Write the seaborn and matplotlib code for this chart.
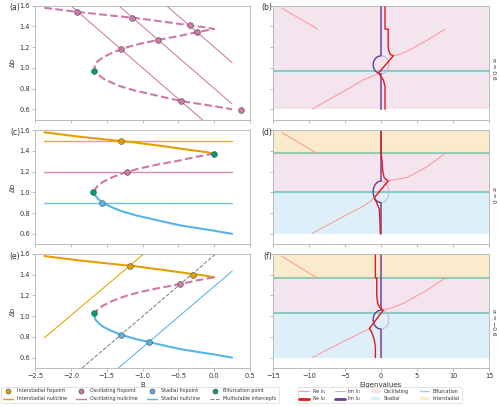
import numpy as np
import matplotlib.pyplot as plt
import seaborn as sns
from matplotlib.lines import Line2D
from matplotlib.patches import Patch

nan = np.nan

# fold curve of fixpoints (B against Δb), same for the three left panels
upper_b = [-2.37, -1.91, -1.30, -1.14, -0.70, -0.34, -0.12, 0.0]
upper_db = [1.58, 1.54, 1.495, 1.485, 1.445, 1.41, 1.39, 1.375]
middle_b = [0.0, -0.12, -0.24, -0.47, -0.78, -1.05, -1.21, -1.41, -1.555, -1.63, -1.66, -1.67]
middle_db = [1.375, 1.36, 1.345, 1.31, 1.27, 1.23, 1.20, 1.15, 1.10, 1.06, 1.03, 1.00]
lower_b = [-1.67, -1.66, -1.61, -1.555, -1.44, -1.30, -1.10, -0.91, -0.66, -0.46, -0.23, 0.0, 0.25]
lower_db = [1.00, 0.97, 0.93, 0.90, 0.86, 0.82, 0.78, 0.75, 0.71, 0.68, 0.655, 0.63, 0.60]

# nullclines
a_null_b = [-2.5, 0.25]
a_null_db = [[1.90, 0.25], [2.30, 0.652], [2.70, 1.051]]
c_null_b = [-2.37, 0.25]
c_null_db = {"Interstadial": 1.5, "Oscillating": 1.2, "Stadial": 0.9}
e_null_b = [-2.37, 0.25]
e_inter_db = [0.79, 2.32]
e_stad_db = [-0.11, 1.434]
e_multi_db = [0.189, 1.735]

# fixpoints (B, Δb)
a_osc = ([-1.91, -1.30, -0.46, -1.14, -0.78, -0.34, -0.24, 0.37],
         [1.54, 1.18, 0.68, 1.485, 1.27, 1.41, 1.345, 0.59])
a_bif = ([-1.68], [0.97])
c_int = ([-1.30], [1.50])
c_osc = ([-1.21], [1.20])
c_sta = ([-1.56], [0.90])
c_bif = ([-1.69, 0.0], [1.00, 1.375])
e_int = ([-1.18, -0.30], [1.48, 1.40])
e_osc = ([-0.47], [1.31])
e_sta = ([-1.30, -0.91], [0.82, 0.75])
e_bif = ([-1.68], [1.03])

# eigenvalues (right panels)
im1_x = [0, 0, 0.42, 0.78, 1.02, 1.1, 1.02, 0.78, 0.42, 0, 0]
im2_x = [0, 0, -0.42, -0.78, -1.02, -1.1, -1.02, -0.78, -0.42, 0, 0]

b_re1_x = [-13.8, -8.8, nan, -9.5, -7.08, -4.5, -2.45, -1.07, -0.37, 1.71, 2.5, 3.57, 6.35, 8.89]
b_re1_y = [1.578, 1.374, nan, 0.603, 0.70, 0.80, 0.884, 0.922, 0.948, 1.116, 1.13, 1.158, 1.264, 1.374]
b_re2_x = [0.56, 0.56, 1.0, 1.0, 1.1, 1.3, 1.71, -0.37, -0.14, 0.32, 0.56, 0.56]
b_re2_y = [1.59, 1.374, 1.374, 1.20, 1.16, 1.13, 1.116, 0.948, 0.932, 0.884, 0.82, 0.60]
b_im_y = [1.59, 1.117, 1.110, 1.092, 1.063, 1.03, 0.997, 0.969, 0.950, 0.943, 0.6]

d_re1_x = [-13.8, -8.8, nan, -9.5, -7.08, -4.5, -2.45, -1.3, -0.93, 1.0, 2.0, 3.57, 6.35, 8.89]
d_re1_y = [1.578, 1.374, nan, 0.607, 0.697, 0.794, 0.868, 0.922, 0.949, 1.11, 1.125, 1.142, 1.246, 1.374]
d_re2_x = [0.0, 0.0, 0.15, 0.25, 0.45, 1.0, -0.93, -0.6, -0.23, -0.14, -0.1]
d_re2_y = [1.59, 1.38, 1.30, 1.20, 1.14, 1.11, 0.949, 0.90, 0.835, 0.70, 0.60]
d_im_y = [1.59, 1.110, 1.102, 1.079, 1.045, 1.005, 0.965, 0.931, 0.908, 0.900, 0.6]

f_re1_x = [-13.8, -8.8, nan, -9.5, -7.08, -4.5, -2.45, -1.62, 0.32, 1.5, 3.1, 6.35, 8.89]
f_re1_y = [1.578, 1.365, nan, 0.60, 0.69, 0.78, 0.85, 0.88, 1.058, 1.08, 1.123, 1.25, 1.365]
f_re2_x = [-0.78, -0.78, -0.6, -0.6, -0.45, -0.14, 0.32, -1.62, -1.3, -0.93, -0.78, -0.78]
f_re2_y = [1.59, 1.37, 1.37, 1.2, 1.12, 1.08, 1.058, 0.88, 0.848, 0.77, 0.70, 0.60]
f_im_y = [1.59, 1.058, 1.051, 1.031, 1.001, 0.966, 0.931, 0.901, 0.881, 0.874, 0.6]

# regime bands (low, high, regime) and bifurcation levels
b_bands = [(0.97, 1.59, "Oscillating"), (0.945, 0.97, "Stadial"), (0.6, 0.945, "Oscillating")]
b_bif = [0.97]
d_bands = [(1.38, 1.59, "Interstadial"), (1.0, 1.38, "Oscillating"), (0.6, 1.0, "Stadial")]
d_bif = [1.38, 1.0]
f_bands = [(1.365, 1.59, "Interstadial"), (1.026, 1.365, "Oscillating"), (0.6, 1.026, "Stadial")]
f_bif = [1.365, 1.026]

sigma_labels = ["σ = 0.6", "σ = 0", "σ = −0.6"]

sns.set_theme(style="ticks", rc={
    "axes.edgecolor": "0.7", "xtick.color": "0.7", "ytick.color": "0.7",
    "xtick.labelcolor": "0.2", "ytick.labelcolor": "0.2",
    "axes.labelcolor": "0.2", "text.color": "0.2",
    "xtick.labelsize": 9.5, "ytick.labelsize": 9.5, "axes.labelsize": 10,
    "xtick.major.size": 4, "ytick.major.size": 4,
})
plt.rcParams["font.family"] = ["DejaVu Sans"]

col = {"Interstadial": "#E69F00", "Oscillating": "#CC79A7",
       "Stadial": "#56B4E9", "Bifurcation": "#009E73"}
paired = sns.color_palette("Paired")
re1_c, re2_c, im1_c, im2_c = paired[4], paired[5], paired[8], paired[9]

fig = plt.figure(figsize=(10, 8.14))
bottoms = [0.706, 0.400, 0.096]
h = 0.28
lefts = [fig.add_axes([0.07, b, 0.43, h]) for b in bottoms]
rights = [fig.add_axes([0.546, b, 0.432, h]) for b in bottoms]


def dots(ax, pts, kind):
    sns.scatterplot(x=pts[0], y=pts[1], ax=ax, color=col[kind], s=70,
                    edgecolor="0.3", linewidth=0.8, zorder=5, legend=False)


# (a)
ax = lefts[0]
for dbs in a_null_db:
    ax.plot(a_null_b, dbs, color=col["Oscillating"], lw=1.5)
ax.plot(upper_b + middle_b[1:] + lower_b[1:], upper_db + middle_db[1:] + lower_db[1:],
        color=col["Oscillating"], lw=3, ls="--")
dots(ax, a_osc, "Oscillating")
dots(ax, a_bif, "Bifurcation")

# (c)
ax = lefts[1]
for kind, v in c_null_db.items():
    ax.plot(c_null_b, [v, v], color=col[kind], lw=2, alpha=0.85)
ax.plot(upper_b, upper_db, color=col["Interstadial"], lw=3)
ax.plot(middle_b, middle_db, color=col["Oscillating"], lw=3, ls="--")
ax.plot(lower_b, lower_db, color=col["Stadial"], lw=3)
dots(ax, c_int, "Interstadial")
dots(ax, c_osc, "Oscillating")
dots(ax, c_sta, "Stadial")
dots(ax, c_bif, "Bifurcation")

# (e)
ax = lefts[2]
ax.plot(e_null_b, e_inter_db, color=col["Interstadial"], lw=1.5)
ax.plot(e_null_b, e_stad_db, color=col["Stadial"], lw=1.5)
ax.plot(e_null_b, e_multi_db, color="0.5", lw=1.5, ls="--")
ax.plot(upper_b, upper_db, color=col["Interstadial"], lw=3)
ax.plot(middle_b, middle_db, color=col["Oscillating"], lw=3, ls="--")
ax.plot(lower_b, lower_db, color=col["Stadial"], lw=3)
dots(ax, e_int, "Interstadial")
dots(ax, e_osc, "Oscillating")
dots(ax, e_sta, "Stadial")
dots(ax, e_bif, "Bifurcation")

for i, ax in enumerate(lefts):
    ax.set_xlim(-2.5, 0.5)
    ax.set_ylim(0.5, 1.6)
    ax.set_xticks(np.arange(-2.5, 0.51, 0.5))
    ax.set_yticks(np.arange(0.6, 1.61, 0.2))
    ax.set_ylabel("Δb")
    if i < 2:
        ax.tick_params(labelbottom=False)
    ax.text(-0.068, 0.98, "(" + "ace"[i] + ")", transform=ax.transAxes,
            ha="right", va="center", fontsize=11)
lefts[2].set_xlabel("B")

# right panels
panels = [
    (b_bands, b_bif, b_re1_x, b_re1_y, b_re2_x, b_re2_y, b_im_y),
    (d_bands, d_bif, d_re1_x, d_re1_y, d_re2_x, d_re2_y, d_im_y),
    (f_bands, f_bif, f_re1_x, f_re1_y, f_re2_x, f_re2_y, f_im_y),
]
sigma_y = [0.45, 0.43, 0.40]
for i, (ax, p) in enumerate(zip(rights, panels)):
    bands, bifs, r1x, r1y, r2x, r2y, imy = p
    for lo, hi, kind in bands:
        ax.axhspan(lo, hi, color=col[kind], alpha=0.2, lw=0, zorder=0)
    for v in bifs:
        ax.axhline(v, color=col["Bifurcation"], alpha=0.4, lw=3, zorder=1)
    ax.plot(im1_x, imy, color=im1_c, lw=1.5, zorder=2)
    ax.plot(im2_x, imy, color=im2_c, lw=2, zorder=3)
    ax.plot(r1x, r1y, color=re1_c, lw=1.5, zorder=3)
    ax.plot(r2x, r2y, color=re2_c, lw=2, zorder=4)
    ax.set_xlim(-15, 15)
    ax.set_ylim(0.5, 1.6)
    ax.set_xticks(np.arange(-15, 16, 5))
    ax.set_yticks(np.arange(0.6, 1.61, 0.2))
    ax.tick_params(labelleft=False)
    if i < 2:
        ax.tick_params(labelbottom=False)
    ax.text(-0.005, 0.98, "(" + "bdf"[i] + ")", transform=ax.transAxes,
            ha="right", va="center", fontsize=11)
    ax.text(1.01, sigma_y[i], sigma_labels[i], transform=ax.transAxes,
            rotation=270, ha="left", va="center", fontsize=8.5)
rights[2].set_xlabel("Eigenvalues")

for ax in lefts + rights:
    for s in ax.spines.values():
        s.set_visible(True)

# legends
left_handles = [
    Line2D([], [], marker="o", ls="none", mfc=col["Interstadial"], mec="0.3", ms=7, label="Interstadial fixpoint"),
    Line2D([], [], color=col["Interstadial"], lw=2, label="Interstadial nullcline"),
    Line2D([], [], marker="o", ls="none", mfc=col["Oscillating"], mec="0.3", ms=7, label="Oscillating fixpoint"),
    Line2D([], [], color=col["Oscillating"], lw=2, label="Oscillating nullcline"),
    Line2D([], [], marker="o", ls="none", mfc=col["Stadial"], mec="0.3", ms=7, label="Stadial fixpoint"),
    Line2D([], [], color=col["Stadial"], lw=2, label="Stadial nullcline"),
    Line2D([], [], marker="o", ls="none", mfc=col["Bifurcation"], mec="0.3", ms=7, label="Bifurcation point"),
    Line2D([], [], color="0.5", lw=1.5, ls="--", label="Multistable intercepts"),
]
right_handles = [
    Line2D([], [], color=re1_c, lw=1.5, label="Re λ₁"),
    Line2D([], [], color=re2_c, lw=4, label="Re λ₂"),
    Line2D([], [], color=im1_c, lw=1.5, label="Im λ₁"),
    Line2D([], [], color=im2_c, lw=4, label="Im λ₂"),
    Patch(facecolor=col["Oscillating"], alpha=0.2, lw=0, label="Oscillating"),
    Patch(facecolor=col["Stadial"], alpha=0.2, lw=0, label="Stadial"),
    Line2D([], [], color=col["Bifurcation"], alpha=0.4, lw=2, label="Bifurcation"),
    Patch(facecolor=col["Interstadial"], alpha=0.2, lw=0, label="Interstadial"),
]
fig.legend(handles=left_handles, ncol=4, fontsize=7, loc="lower left",
           bbox_to_anchor=(0.002, 0.009), frameon=True, columnspacing=2.0,
           handlelength=2.0, borderaxespad=0, labelspacing=0.6)
fig.legend(handles=right_handles, ncol=4, fontsize=6.8, loc="lower left",
           bbox_to_anchor=(0.595, 0.009), frameon=True, columnspacing=2.2,
           handlelength=2.0, borderaxespad=0, labelspacing=0.6)

fig.savefig("out.png", dpi=50)
